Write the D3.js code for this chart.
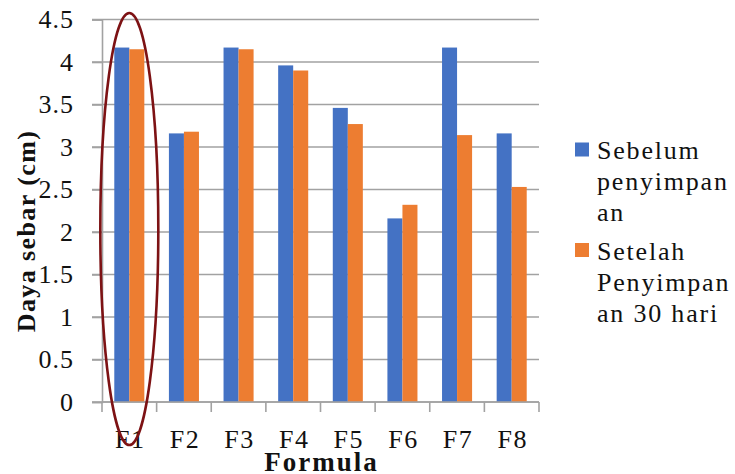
<!DOCTYPE html>
<html>
<head>
<meta charset="utf-8">
<script src="https://cdn.jsdelivr.net/npm/d3@7"></script>
<style>
  html, body { margin: 0; padding: 0; background: #fff; }
  svg { display: block; }
</style>
</head>
<body>
<svg id="chart" width="735" height="474"></svg>
<script>
const categories = ["F1", "F2", "F3", "F4", "F5", "F6", "F7", "F8"];
const seriesNames = ["Sebelum penyimpanan", "Setelah Penyimpanan 30 hari"];
const sebelum = [4.17, 3.16, 4.17, 3.96, 3.46, 2.16, 4.17, 3.16];
const setelah = [4.15, 3.18, 4.15, 3.90, 3.27, 2.32, 3.14, 2.53];
const yTicks = [0, 0.5, 1, 1.5, 2, 2.5, 3, 3.5, 4, 4.5];
const yTickLabels = ["0", "0.5", "1", "1.5", "2", "2.5", "3", "3.5", "4", "4.5"];
const legendLines = [["Sebelum", "penyimpan", "an"], ["Setelah", "Penyimpan", "an 30 hari"]];
const colors = ["#4472C4", "#ED7D31"];

(function () {
const FONT = "'Liberation Serif', 'Times New Roman', serif";
const svg = d3.select("#chart");
const pL = 102, pR = 539, pT = 19.5, pB = 402;

const y = d3.scaleLinear().domain([0, 4.5]).range([pB, pT]);
const x = d3.scaleBand().domain(categories).range([pL, pR])
  .paddingInner(0.45).paddingOuter(0.225);
const xs = d3.scaleBand().domain(seriesNames).range([0, x.bandwidth()]);

// gridlines
svg.append("g").selectAll("line").data(yTicks).join("line")
  .attr("x1", pL - 10).attr("x2", pR)
  .attr("y1", d => y(d)).attr("y2", d => y(d))
  .attr("stroke", "#a2a2a2").attr("stroke-width", 1.6);

// y axis
const yAxis = d3.axisLeft(y).tickValues(yTicks)
  .tickFormat((d, i) => yTickLabels[i]).tickSize(10).tickPadding(18);
const gy = svg.append("g").attr("transform", `translate(${pL},0)`).call(yAxis);
gy.select(".domain").attr("stroke", "#a2a2a2").attr("stroke-width", 1.6);
gy.selectAll(".tick line").attr("stroke", "#a2a2a2").attr("stroke-width", 1.6);
gy.selectAll(".tick text")
  .style("font-family", FONT).style("font-size", "26px").style("letter-spacing", "1px")
  .attr("fill", "#111");

// bars
const data = categories.map((c, i) => ({ c, vals: [sebelum[i], setelah[i]] }));
const groups = svg.append("g").selectAll("g").data(data).join("g")
  .attr("transform", d => `translate(${x(d.c)},0)`);
groups.selectAll("rect").data(d => d.vals.map((v, j) => ({ v, j })))
  .join("rect")
  .attr("x", d => xs(seriesNames[d.j]))
  .attr("width", xs.bandwidth())
  .attr("y", d => y(d.v))
  .attr("height", d => y(0) - y(d.v))
  .attr("fill", d => colors[d.j]);

// x axis line and category ticks
svg.append("line").attr("x1", pL).attr("x2", pR)
  .attr("y1", pB).attr("y2", pB)
  .attr("stroke", "#a2a2a2").attr("stroke-width", 1.6);
const bounds = d3.range(categories.length + 1).map(i => x.range()[0] + i * x.step());
svg.append("g").selectAll("line").data(bounds).join("line")
  .attr("x1", d => d).attr("x2", d => d)
  .attr("y1", pB).attr("y2", pB + 10)
  .attr("stroke", "#a2a2a2").attr("stroke-width", 1.6);

// x labels
svg.append("g").selectAll("text").data(categories).join("text")
  .attr("x", d => x(d) + x.bandwidth() / 2 + 1)
  .attr("y", 448)
  .attr("text-anchor", "middle")
  .style("font-family", FONT).style("font-size", "26px").style("letter-spacing", "1.5px")
  .attr("fill", "#111")
  .text(d => d);

// axis titles
svg.append("text")
  .attr("x", (pL + pR) / 2 + 1).attr("y", 471)
  .attr("text-anchor", "middle")
  .style("font-family", FONT).style("font-size", "27px").style("font-weight", "bold")
  .style("letter-spacing", "2px")
  .attr("fill", "#111")
  .text("Formula");
svg.append("text")
  .attr("transform", "translate(35,231) rotate(-90)")
  .attr("text-anchor", "middle")
  .style("font-family", FONT).style("font-size", "26px").style("font-weight", "bold")
  .style("letter-spacing", "1.4px")
  .attr("fill", "#111")
  .text("Daya sebar (cm)");

// legend
const legend = svg.append("g");
const legendTop = [142.5, 243];
legendLines.forEach((lines, i) => {
  legend.append("rect").attr("x", 575).attr("y", legendTop[i])
    .attr("width", 14).attr("height", 14).attr("fill", colors[i]);
  lines.forEach((t, k) => {
    legend.append("text").attr("x", 597).attr("y", legendTop[i] + 16.5 + k * 31)
      .style("font-family", FONT).style("font-size", "26px").style("letter-spacing", "1.8px")
      .attr("fill", "#111").text(t);
  });
});

// highlight ellipse around F1
svg.append("ellipse")
  .attr("cx", x("F1") + x.bandwidth() / 2).attr("cy", 229)
  .attr("rx", 29).attr("ry", 216)
  .attr("fill", "none").attr("stroke", "#7d1214").attr("stroke-width", 2.6);
})();
</script>
</body>
</html>
